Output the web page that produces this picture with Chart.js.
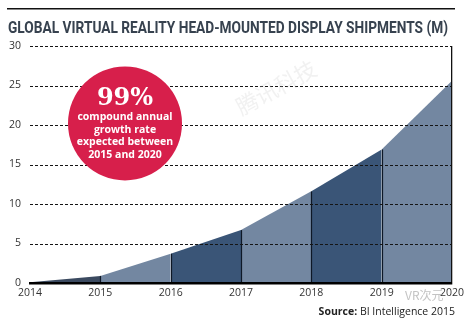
<!DOCTYPE html>
<html>
<head>
<meta charset="utf-8">
<script src="https://cdn.jsdelivr.net/npm/chart.js@4.4.1/dist/chart.umd.min.js"></script>
<style>
  html, body { margin: 0; padding: 0; background: #fff; }
  #wrap { width: 468px; height: 323px; position: relative; }
</style>
</head>
<body>
<div id="wrap"><canvas id="vrChart" width="468" height="323"></canvas></div>
<script>
// shipments, millions of units
const years = ['2014', '2015', '2016', '2017', '2018', '2019', '2020'];
const shipments = [0.1, 0.9, 3.7, 6.7, 11.6, 16.9, 25.6];
const yTicks = [0, 5, 10, 15, 20, 25, 30];

const titleText = 'GLOBAL VIRTUAL REALITY HEAD-MOUNTED DISPLAY SHIPMENTS (M)';
const cagrValue = '99%';
const cagrLines = ['compound annual', 'growth rate', 'expected between', '2015 and 2020'];

const darkBlue = '#3a5577';
const greyBlue = '#7387a1';
const segColors = ['#3b4a60', greyBlue, darkBlue, greyBlue, darkBlue, greyBlue];

// one filled dataset per year-to-year band so each band gets its own colour
const segDatasets = segColors.map((c, i) => ({
    type: 'line',
    data: shipments.map((v, j) => (j === i || j === i + 1) ? v : null),
    backgroundColor: c,
    borderWidth: 0,
    pointRadius: 0,
    fill: 'origin',
    tension: 0
}));

// thin dividers at each year up to the curve, dashed value lines on top
const dividerPlugin = {
    id: 'dividers',
    afterDatasetsDraw(chart) {
        const {ctx, chartArea: a, scales: {x, y}} = chart;
        ctx.save();
        ctx.strokeStyle = '#0e1826';
        ctx.lineWidth = 1.2;
        for (let i = 1; i < shipments.length - 1; i++) {
            const px = Math.round(x.getPixelForValue(i)) + 0.5;
            ctx.beginPath();
            ctx.moveTo(px, y.getPixelForValue(shipments[i]));
            ctx.lineTo(px, y.getPixelForValue(0));
            ctx.stroke();
        }
        ctx.strokeStyle = '#151515';
        ctx.lineWidth = 1;
        ctx.setLineDash([3, 2]);
        yTicks.slice(1).forEach(v => {
            const py = Math.round(y.getPixelForValue(v)) + 0.5;
            ctx.beginPath();
            ctx.moveTo(a.left, py);
            ctx.lineTo(a.right, py);
            ctx.stroke();
        });
        ctx.restore();
    }
};

// title, rule, growth badge, source line
const decorPlugin = {
    id: 'decor',
    afterDraw(chart) {
        const {ctx, chartArea: a, scales: {y}} = chart;
        ctx.save();

        // top rule
        ctx.fillStyle = '#111';
        ctx.fillRect(7, 8, 448, 1.5);

        // title, squeezed to the rule width
        ctx.font = 'bold 16px Roboto, "DejaVu Sans", sans-serif';
        ctx.fillStyle = '#37424f';
        ctx.textBaseline = 'alphabetic';
        ctx.textAlign = 'left';
        const tw = ctx.measureText(titleText).width;
        ctx.save();
        ctx.translate(8, 33);
        ctx.scale(440 / tw, 1);
        ctx.fillText(titleText, 0, 0);
        ctx.restore();

        // growth badge
        const cx = a.left + 95;
        const cy = y.getPixelForValue(20.2);
        ctx.beginPath();
        ctx.arc(cx, cy, 57, 0, Math.PI * 2);
        ctx.fillStyle = '#d71f4b';
        ctx.fill();
        ctx.fillStyle = '#fff';
        ctx.textAlign = 'center';
        ctx.font = 'bold 24px "DejaVu Serif", "Liberation Serif", serif';
        ctx.fillText(cagrValue, cx, cy - 18);
        ctx.font = 'bold 10.5px "Open Sans", sans-serif';
        cagrLines.forEach((t, i) => ctx.fillText(t, cx, cy - 3 + i * 12.5));

        // watermarks
        ctx.save();
        ctx.translate(280, 95);
        ctx.rotate(-0.5);
        ctx.font = '22px "Noto Sans CJK SC", sans-serif';
        ctx.fillStyle = 'rgba(200, 200, 200, 0.25)';
        ctx.fillText('腾讯科技', 0, 0);
        ctx.restore();
        ctx.font = '12px "Noto Sans CJK SC", sans-serif';
        ctx.fillStyle = 'rgba(170, 170, 170, 0.7)';
        ctx.textAlign = 'left';
        ctx.fillText('VR次元', 405, 300);

        // source
        ctx.textAlign = 'right';
        ctx.fillStyle = '#222';
        ctx.font = '10.5px "Open Sans", sans-serif';
        const rest = ' BI Intelligence 2015';
        ctx.fillText(rest, 455, 315);
        const rw = ctx.measureText(rest).width;
        ctx.font = 'bold 10.5px "Open Sans", sans-serif';
        ctx.fillText('Source:', 455 - rw, 315);

        ctx.restore();
    }
};

new Chart(document.getElementById('vrChart').getContext('2d'), {
    type: 'line',
    data: {
        labels: years,
        datasets: segDatasets
    },
    options: {
        responsive: false,
        animation: false,
        layout: { padding: { left: 0, right: 15, top: 46, bottom: 20 } },
        plugins: {
            legend: { display: false },
            tooltip: { enabled: false }
        },
        scales: {
            x: {
                offset: false,
                grid: {
                    z: 1,
                    drawTicks: false,
                    lineWidth: 1.3,
                    color: ctx => ctx.index === years.length - 1 ? '#111' : 'rgba(0,0,0,0)'
                },
                border: { display: true, color: '#000', width: 2.5, z: 1 },
                ticks: {
                    color: '#333',
                    padding: 4,
                    maxRotation: 0,
                    autoSkip: false,
                    font: { family: '"Open Sans", sans-serif', size: 10.5 }
                },
                afterFit: axis => { axis.height = 20; }
            },
            y: {
                min: 0,
                max: 30,
                afterBuildTicks: axis => { axis.ticks = yTicks.map(v => ({ value: v })); },
                grid: { display: false, drawTicks: false },
                border: { display: false },
                ticks: {
                    color: '#333',
                    padding: 9,
                    font: { family: '"Open Sans", sans-serif', size: 10.5 }
                },
                afterFit: axis => { axis.width = 30; }
            }
        }
    },
    plugins: [dividerPlugin, decorPlugin]
});
</script>
</body>
</html>
